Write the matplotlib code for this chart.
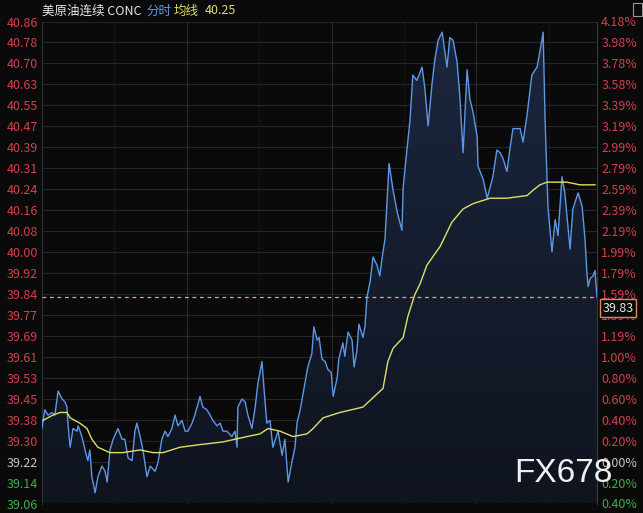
import numpy as np
import matplotlib.pyplot as plt
from matplotlib.colors import LinearSegmentedColormap
from matplotlib.patches import Rectangle

plt.rcParams['font.family'] = ['Noto Sans CJK SC', 'DejaVu Sans']

# minute-line data (minutes since session open, price)
minutes = [0, 7, 15, 25, 32, 40, 50, 57, 62, 65, 70, 77, 87, 90, 99, 107, 114, 119, 124, 132,
           139, 149, 157, 162, 169, 177, 189, 199, 206, 214, 224, 231, 236, 244, 251, 261, 269, 281, 288, 298,
           306, 313, 323, 331, 338, 348, 356, 363, 373, 380, 393, 400, 410, 418, 425, 435, 443, 450, 460, 472,
           480, 485, 487, 497, 505, 512, 522, 530, 537, 547, 552, 559, 567, 574, 587, 597, 604, 612, 622, 629,
           634, 642, 654, 661, 671, 676, 684, 689, 696, 704, 711, 719, 724, 734, 738, 748, 753, 761, 771, 776,
           783, 788, 798, 803, 808, 816, 823, 833, 840, 845, 853, 863, 873, 883, 895, 898, 908, 915, 922, 932,
           945, 952, 960, 970, 977, 985, 995, 1007, 1014, 1022, 1032, 1039, 1047, 1057, 1064, 1072, 1082, 1084, 1097, 1107,
           1114, 1121, 1131, 1139, 1146, 1156, 1164, 1171, 1189, 1196, 1206, 1218, 1231, 1243, 1246, 1251, 1256, 1258, 1268, 1276,
           1283, 1293, 1300, 1313, 1320, 1333, 1343, 1350, 1355, 1358, 1363, 1370, 1375, 1380]
price = [39.34, 39.41, 39.39, 39.40, 39.39, 39.48, 39.45, 39.44, 39.42, 39.35, 39.27, 39.34, 39.33, 39.35, 39.31, 39.26, 39.22, 39.26, 39.16, 39.10,
         39.16, 39.20, 39.18, 39.14, 39.26, 39.30, 39.34, 39.30, 39.30, 39.23, 39.22, 39.33, 39.36, 39.31, 39.26, 39.16, 39.20, 39.18, 39.21, 39.30,
         39.33, 39.31, 39.34, 39.39, 39.35, 39.37, 39.33, 39.33, 39.36, 39.39, 39.46, 39.42, 39.41, 39.39, 39.37, 39.35, 39.36, 39.33, 39.33, 39.31,
         39.33, 39.27, 39.42, 39.45, 39.44, 39.39, 39.34, 39.42, 39.51, 39.59, 39.49, 39.36, 39.37, 39.27, 39.33, 39.24, 39.30, 39.14, 39.22, 39.27,
         39.36, 39.41, 39.51, 39.57, 39.62, 39.72, 39.67, 39.68, 39.60, 39.59, 39.56, 39.55, 39.46, 39.53, 39.60, 39.66, 39.61, 39.70, 39.67, 39.57,
         39.63, 39.73, 39.68, 39.72, 39.83, 39.89, 39.98, 39.95, 39.91, 39.97, 40.05, 40.33, 40.23, 40.15, 40.08, 40.24, 40.39, 40.49, 40.66, 40.64,
         40.69, 40.61, 40.47, 40.63, 40.72, 40.79, 40.82, 40.69, 40.80, 40.79, 40.71, 40.58, 40.37, 40.68, 40.57, 40.52, 40.43, 40.32, 40.27, 40.20,
         40.24, 40.28, 40.38, 40.37, 40.35, 40.30, 40.39, 40.46, 40.46, 40.41, 40.51, 40.66, 40.69, 40.79, 40.82, 40.49, 40.27, 40.17, 40.00, 40.12,
         40.06, 40.28, 40.22, 40.01, 40.16, 40.22, 40.17, 40.05, 39.92, 39.87, 39.90, 39.91, 39.93, 39.83]

avg_minutes = [2, 27, 45, 62, 70, 94, 112, 124, 139, 169, 201, 244, 276, 301, 343, 393, 450, 510, 542, 562,
               592, 624, 659, 674, 699, 741, 798, 848, 860, 873, 898, 910, 927, 940, 957, 990, 1019, 1047, 1072, 1114,
               1156, 1206, 1221, 1238, 1256, 1305, 1338, 1375]
avg_price = [39.37, 39.39, 39.40, 39.40, 39.38, 39.36, 39.34, 39.30, 39.27, 39.25, 39.25, 39.26, 39.25, 39.25, 39.27, 39.28, 39.29, 39.31, 39.32, 39.34,
             39.33, 39.31, 39.32, 39.34, 39.38, 39.40, 39.42, 39.49, 39.59, 39.64, 39.68, 39.76, 39.84, 39.88, 39.95, 40.02, 40.11, 40.16, 40.18, 40.20,
             40.20, 40.21, 40.23, 40.25, 40.26, 40.26, 40.25, 40.25]

price_ticks = ['40.86', '40.78', '40.70', '40.63', '40.55', '40.47', '40.39', '40.31', '40.24', '40.16', '40.08', '40.00',
               '39.92', '39.84', '39.77', '39.69', '39.61', '39.53', '39.45', '39.38', '39.30', '39.22', '39.14', '39.06']
pct_ticks = ['4.18%', '3.98%', '3.78%', '3.58%', '3.39%', '3.19%', '2.99%', '2.79%', '2.59%', '2.39%', '2.19%', '1.99%',
             '1.79%', '1.59%', '1.39%', '1.19%', '1.00%', '0.80%', '0.60%', '0.40%', '0.20%', '0.00%', '0.20%', '0.40%']
last_price = 39.83
avg_last = '40.25'

y_top, y_bot = 40.86, 39.06
session_len = 1380

RED = '#d2404a'
GREEN = '#3fae49'
GRAY = '#c8c8c8'
BLUE = '#5d97e6'
YELLOW = '#dede6a'

fig = plt.figure(figsize=(6.43, 5.13), dpi=100)
fig.patch.set_facecolor('#0a0a0a')
ax = fig.add_axes([42 / 643, 9.5 / 513, 555 / 643, 482 / 513])
ax.set_facecolor('#0a0a0a')

tick_pos = np.linspace(y_top, y_bot, len(price_ticks))

# grid
for y in tick_pos:
    ax.axhline(y, color='#262626', lw=0.8, zorder=1)
for x in [360, 720, 1080]:
    ax.axvline(x, color='#2c2c2c', lw=0.8, zorder=1)
for x in [180, 540, 900, 1260]:
    ax.axvline(x, color='#262626', lw=0.8, ls=(0, (1, 1.5)), zorder=1)

# gradient fill under the price line
poly = ax.fill_between(minutes, price, y_bot, facecolor='none', edgecolor='none')
cmap = LinearSegmentedColormap.from_list('fill', ['#0f141e', '#1b2740'])
grad = np.linspace(1, 0, 256).reshape(-1, 1)
img = ax.imshow(grad, cmap=cmap, extent=[0, session_len, y_bot, y_top], aspect='auto', zorder=2)
img.set_clip_path(poly.get_paths()[0], transform=ax.transData)

ax.plot(minutes, price, color=BLUE, lw=1.0, zorder=4)
ax.plot(avg_minutes, avg_price, color=YELLOW, lw=1.0, zorder=5)
ax.axhline(last_price, color='#e0a878', lw=0.9, ls=(0, (3, 3)), zorder=6)

ax.set_xlim(0, session_len)
ax.set_ylim(y_bot, y_top)
ax.set_xticks([])

def colour_for(i):
    if i < 21:
        return RED
    if i == 21:
        return GRAY
    return GREEN

ax.set_yticks(tick_pos)
ax.set_yticklabels(price_ticks, fontsize=9)
ax.tick_params(axis='y', length=0, pad=3)
for i, lab in enumerate(ax.get_yticklabels()):
    lab.set_color(colour_for(i))

ax2 = ax.twinx()
ax2.set_ylim(y_bot, y_top)
ax2.set_yticks(tick_pos)
ax2.set_yticklabels(pct_ticks, fontsize=9)
ax2.tick_params(axis='y', length=0, pad=3)
for i, lab in enumerate(ax2.get_yticklabels()):
    lab.set_color(colour_for(i))

for a in (ax, ax2):
    for s in a.spines.values():
        s.set_visible(False)
ax.spines['left'].set_visible(True)
ax.spines['left'].set_color('#333333')
ax.spines['right'].set_visible(True)
ax.spines['right'].set_color('#3a3a3a')

# last price box
ax2.annotate(f'{last_price:.2f}', xy=(1.0, last_price), xycoords=('axes fraction', 'data'),
             xytext=(4, -8), textcoords='offset points', fontsize=9, color='#e6e6e6',
             va='center', ha='left', annotation_clip=False,
             bbox=dict(boxstyle='square,pad=0.2', fc='#0a0a0a', ec='#e08a5a', lw=1.0))

# title
ty = 1 - 11 / 513
fig.text(42 / 643, ty, '美原油连续 CONC', color='#e8e8e8', fontsize=9, va='center')
fig.text(146 / 643, ty, '分时', color=BLUE, fontsize=9, va='center')
fig.text(174 / 643, ty, '均线', color=YELLOW, fontsize=9, va='center')
fig.text(205 / 643, ty, avg_last, color=YELLOW, fontsize=9, va='center')

fig.patches.append(Rectangle((633 / 643, 1 - 16 / 513), 9 / 643, 13 / 513, transform=fig.transFigure,
                             fill=False, ec='#9a9a9a', lw=0.8))

fig.text(514 / 643, 1 - 474 / 513, 'FX678', color='#f0f0f0', fontsize=24, va='center',
         family=['Liberation Sans', 'DejaVu Sans'])

fig.savefig('out.png', dpi=100, facecolor=fig.get_facecolor())
